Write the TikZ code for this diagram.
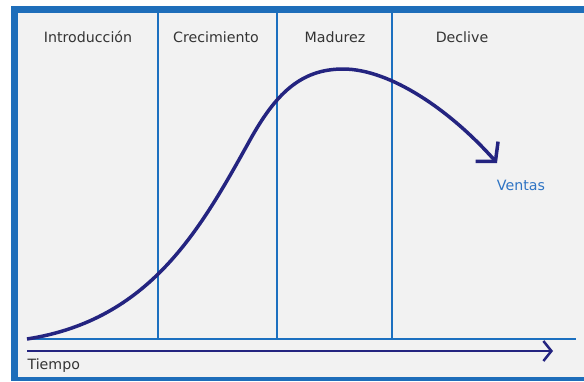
\documentclass[tikz,border=0pt]{standalone}
\usepackage{fontspec}
\setmainfont{DejaVu Sans}
\usetikzlibrary{arrows.meta}
\definecolor{bblue}{RGB}{30,110,186}
\definecolor{lblue}{RGB}{28,112,192}
\definecolor{navy}{RGB}{36,36,128}
\definecolor{vblue}{RGB}{46,116,196}
\definecolor{bgray}{RGB}{242,242,242}
\definecolor{tgray}{RGB}{52,52,52}

\begin{document}
\begin{tikzpicture}[x=1pt, y=-1pt, >={Straight Barb[length=8pt,width=20pt]},
    phase/.style={text=tgray, font=\fontsize{14.2}{17}\selectfont, anchor=base},
    divider/.style={lblue, line width=2pt}]
    % \draw[help lines, gray] (0, 0) grid (584, 381);
    \useasboundingbox (0, 0) rectangle (584, 381);
    \fill[bblue] (11, 6) rectangle (584, 381);
    \fill[bgray] (18, 13) rectangle (584, 377);

    \coordinate (o) at (27, 339);
    \coordinate (e) at (576, 339);
    \coordinate (t1) at (158, 13);
    \coordinate (t2) at (277, 13);
    \coordinate (t3) at (392, 13);
    \coordinate (b1) at (158, 339);
    \coordinate (b2) at (277, 339);
    \coordinate (b3) at (392, 339);

    \draw[divider] (o) -- (e);
    \draw[divider] (t1) -- (b1);
    \draw[divider] (t2) -- (b2);
    \draw[divider] (t3) -- (b3);

    \node[phase] (intro) at (88, 42) {Introducción};
    \node[phase] (crec) at (216, 42) {Crecimiento};
    \node[phase] (mad) at (335, 42) {Madurez};
    \node[phase] (decl) at (462, 42) {Declive};

    % ventas
    \coordinate (s1) at (250, 140);
    \coordinate (s2) at (343, 69);
    \coordinate (s3) at (497, 163);
    \draw[->, navy, line width=3.5pt, >={Straight Barb[length=13pt,width=30pt]}]
        (o) .. controls (150, 320) and (200, 230) .. (s1)
            .. controls (275, 95) and (300, 69) .. (s2)
            .. controls (390, 69) and (450, 110) .. (s3);
    \node[phase, text=vblue] (ventas) at (521, 190) {Ventas};

    % tiempo
    \coordinate (x0) at (27, 351);
    \coordinate (x1) at (553, 351);
    \draw[->, navy, line width=2.5pt] (x0) -- (x1);
    \node[phase, anchor=base west] (tiempo) at (24, 369) {Tiempo};
\end{tikzpicture}
\end{document}
